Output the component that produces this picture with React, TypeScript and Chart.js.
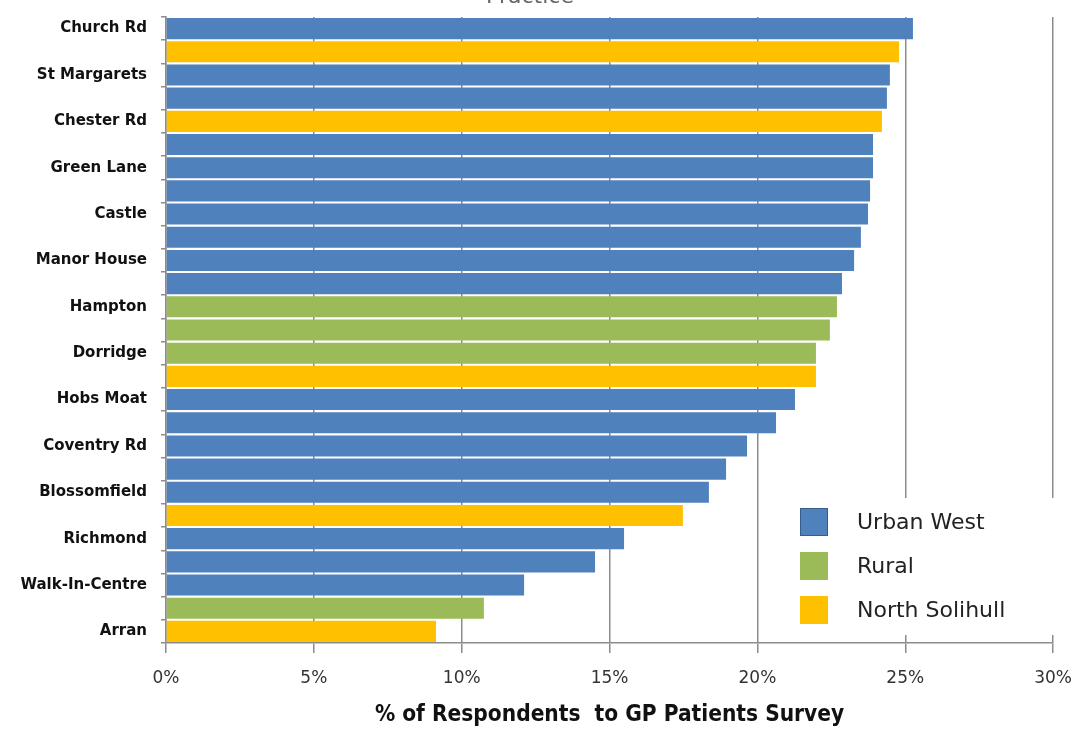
import React, { useEffect, useRef } from "react";
import { Chart, registerables } from "chart.js";

Chart.register(...registerables);

const categories: string[] = [
  "Church Rd", "", "St Margarets", "", "Chester Rd", "", "Green Lane", "", "Castle", "",
  "Manor House", "", "Hampton", "", "Dorridge", "", "Hobs Moat", "", "Coventry Rd", "",
  "Blossomfield", "", "Richmond", "", "Walk-In-Centre", "", "Arran",
];

const values: number[] = [
  25.26, 24.79, 24.48, 24.38, 24.21, 23.91, 23.91, 23.81, 23.74, 23.5,
  23.27, 22.86, 22.69, 22.45, 21.98, 21.98, 21.27, 20.63, 19.65, 18.94,
  18.36, 17.48, 15.49, 14.51, 12.11, 10.75, 9.13,
];

// 0 = Urban West, 1 = Rural, 2 = North Solihull
const groups: number[] = [
  0, 2, 0, 0, 2, 0, 0, 0, 0, 0,
  0, 0, 1, 1, 1, 2, 0, 0, 0, 0,
  0, 2, 0, 0, 0, 1, 2,
];

const groupNames: string[] = ["Urban West", "Rural", "North Solihull"];
const groupColors: string[] = ["#4F81BD", "#9BBB59", "#FFC000"];
const groupBorders: string[] = ["#385D8A", "#9BBB59", "#FFC000"];

const xTicks: number[] = [0, 5, 10, 15, 20, 25, 30];
const chartTitle = "Practice";
const xTitle = "% of Respondents  to GP Patients Survey";

const OFFSET_Y = 6;

export default function App() {
  const ref = useRef<HTMLCanvasElement | null>(null);

  useEffect(() => {
    if (!ref.current) return;

    const legendPlugin = {
      id: "customLegend",
      afterDraw(chart: any) {
        const ctx = chart.ctx;
        ctx.save();
        ctx.translate(0, OFFSET_Y);
        ctx.fillStyle = "#ffffff";
        ctx.fillRect(788, 498, 270, 137);
        groupNames.forEach((name, i) => {
          const cy = 522 + i * 44;
          ctx.fillStyle = groupColors[i];
          ctx.fillRect(800, cy - 14, 28, 28);
          ctx.strokeStyle = groupBorders[i];
          ctx.lineWidth = 1;
          ctx.strokeRect(800.5, cy - 13.5, 27, 27);
          ctx.fillStyle = "#222222";
          ctx.font = "22px 'DejaVu Sans'";
          ctx.textAlign = "left";
          ctx.textBaseline = "middle";
          ctx.fillText(name, 857, cy + 1);
        });
        // title, mostly cut off at top
        ctx.fillStyle = "#666666";
        ctx.font = "22px 'DejaVu Sans'";
        ctx.textAlign = "center";
        ctx.textBaseline = "alphabetic";
        ctx.fillText(chartTitle, 530, 3);
        ctx.restore();
      },
    };

    const chart = new Chart(ref.current, {
      type: "bar",
      data: {
        labels: categories,
        datasets: [
          {
            data: values,
            backgroundColor: groups.map((g) => groupColors[g]),
            borderWidth: 0,
            barPercentage: 0.91,
            categoryPercentage: 1,
          },
        ],
      },
      options: {
        indexAxis: "y",
        animation: false,
        responsive: false,
        maintainAspectRatio: false,
        layout: { padding: { top: 11, right: 20, left: 0, bottom: 0 } },
        plugins: {
          legend: { display: false },
          tooltip: { enabled: false },
        },
        scales: {
          x: {
            min: 0,
            max: 30,
            afterFit: (s: any) => {
              s.height = 86;
            },
            afterBuildTicks: (s: any) => {
              s.ticks = xTicks.map((v) => ({ value: v }));
            },
            ticks: {
              callback: (v: any) => v + "%",
              color: "#333333",
              font: { family: "'DejaVu Sans'", size: 17 },
              padding: 15,
              maxRotation: 0,
            },
            grid: {
              color: "#8c8c8c",
              lineWidth: 1.5,
              tickLength: 10,
              drawTicks: true,
            },
            border: { color: "#8c8c8c", width: 1.5 },
            title: {
              display: true,
              text: xTitle,
              color: "#111111",
              font: { family: "'DejaVu Sans Condensed', 'DejaVu Sans'", size: 22.5, weight: "bold" },
              padding: { top: 0, bottom: 0 },
            },
          },
          y: {
            afterFit: (s: any) => {
              s.width = 166;
            },
            ticks: {
              autoSkip: false,
              color: "#111111",
              font: { family: "'DejaVu Sans'", size: 15, weight: "bold" },
              padding: 14,
            },
            grid: {
              offset: true,
              drawOnChartArea: false,
              drawTicks: true,
              tickLength: 5,
              color: "#8c8c8c",
              lineWidth: 1.5,
            },
            border: { color: "#8c8c8c", width: 1.5 },
          },
        },
      },
      plugins: [legendPlugin],
    });

    return () => chart.destroy();
  }, []);

  return (
    <div style={{ position: "absolute", left: 0, top: 0, width: 1080, height: 729, overflow: "hidden", background: "#fff" }}>
      <canvas
        ref={ref}
        width={1087}
        height={729 + OFFSET_Y}
        style={{ width: 1087, height: 729 + OFFSET_Y, display: "block", marginTop: -OFFSET_Y }}
      />
    </div>
  );
}
